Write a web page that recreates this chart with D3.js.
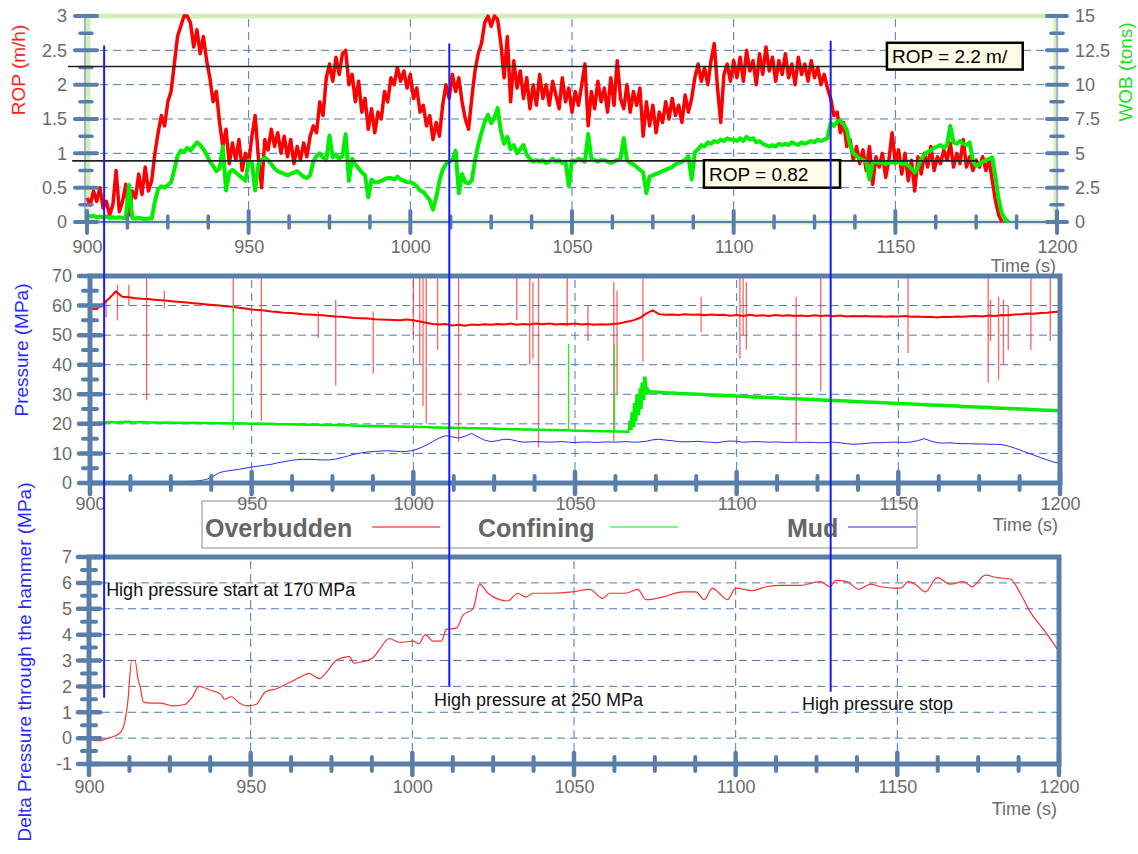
<!DOCTYPE html>
<html lang="en">
<head>
<meta charset="UTF-8">
<title>ROP, WOB and pressures vs time</title>
<script src="https://d3js.org/d3.v7.min.js"></script>
<style>
  body { margin: 0; background: #fff; }
  svg { font-family: "Liberation Sans", Arial, sans-serif; }
  .grid { stroke: #4a78b8; stroke-width: 1; stroke-dasharray: 8,5; fill: none; }
  .mark { stroke: #5a7eaa; stroke-linecap: round; }
  .note { font-size: 18px; fill: #111; }
  .axis-title { font-size: 19px; }
</style>
</head>
<body>
<svg id="chart" width="1138" height="854"></svg>
<script>
// ---- data ----
const timeTicks = [900, 950, 1000, 1050, 1100, 1150, 1200];
const ropTicks = [0, 0.5, 1, 1.5, 2, 2.5, 3];
const wobTicks = [0, 2.5, 5, 7.5, 10, 12.5, 15];
const pressureTicks = [0, 10, 20, 30, 40, 50, 60, 70];
const deltaTicks = [-1, 0, 1, 2, 3, 4, 5, 6, 7];

// ROP (m/h), one sample per second from t = 900 s
const ropStart = 900;
const rop = [
  0.35, 0.25, 0.45, 0.3, 0.5, 0.2, 0.3, 0.1, 0.25, 0.75,
  0.15, 0.3, 0.55, 0.1, 0.45, 0.35, 0.7, 0.4, 0.8, 0.45,
  0.6, 1.0, 1.3, 1.55, 1.4, 1.75, 1.9, 2.3, 2.7, 2.85,
  3.0, 3.0, 2.9, 2.55, 2.8, 2.45, 2.7, 2.35, 2.1, 1.75,
  1.9, 1.45, 1.1, 1.35, 0.85, 1.15, 0.9, 1.2, 0.75, 1.0,
  0.85, 1.25, 1.55, 0.95, 0.5, 1.2, 1.05, 1.35, 1.1, 1.3,
  1.0, 1.25, 0.95, 1.2, 0.85, 1.1, 0.9, 1.15, 0.95, 1.25,
  1.4, 1.3, 1.75, 1.55, 2.1, 2.3, 2.05, 2.4, 2.15, 2.45,
  2.5, 2.0, 2.15, 1.75, 2.05, 1.6, 1.8, 1.35, 1.65, 1.3,
  1.6, 1.5, 1.9, 1.75, 2.1, 2.0, 2.25, 2.05, 2.2, 1.95,
  2.15, 1.8, 1.95, 1.6, 1.7, 1.4, 1.55, 1.2, 1.45, 1.25,
  1.7, 2.0, 1.8, 2.15, 1.9, 2.1, 1.75, 1.5, 1.35, 1.8,
  2.2, 2.45, 2.6, 2.9, 3.0, 2.85, 3.0, 2.95, 2.6, 2.1,
  2.7, 1.75, 2.35, 1.95, 2.2, 1.8, 2.1, 1.65, 2.0, 1.7,
  2.15, 1.8, 2.0, 1.7, 2.05, 1.85, 1.65, 2.1, 1.75, 1.95,
  1.6, 1.9, 1.7, 2.0, 2.3, 1.4, 1.9, 1.65, 2.05, 1.75,
  1.95, 1.6, 2.1, 1.7, 2.35, 1.8, 1.65, 2.0, 1.6, 1.9,
  1.7, 1.95, 1.25, 1.75, 1.4, 1.7, 1.3, 1.6, 1.45, 1.75,
  1.5, 1.8, 1.55, 1.7, 1.45, 1.85, 1.6, 1.8, 2.1, 2.3,
  2.05, 2.25, 2.0, 2.35, 2.6, 1.95, 1.45, 2.15, 2.3, 2.05,
  2.35, 2.1, 2.4, 2.05, 2.5, 2.2, 2.35, 2.0, 2.45, 2.15,
  2.55, 2.2, 2.4, 2.05, 2.35, 2.15, 2.45, 2.1, 2.3, 2.0,
  2.4, 2.15, 2.3, 2.05, 2.35, 2.1, 2.25, 2.0, 2.15, 1.95,
  1.8, 1.55, 1.6, 1.3, 1.45, 1.1, 1.2, 0.9, 1.1, 0.85,
  1.05, 0.75, 1.1, 0.55, 0.95, 0.8, 1.0, 0.65, 0.9, 1.3,
  0.85, 1.05, 0.7, 1.0, 0.6, 0.9, 0.45, 0.95, 0.7, 1.0,
  0.8, 1.1, 0.75, 0.95, 0.85, 1.05, 0.9, 1.15, 0.8, 1.0,
  0.85, 1.2, 0.8, 0.95, 0.75, 0.9, 0.8, 0.95, 0.75, 0.9,
  0.6, 0.3, 0.1, 0.0
];

// WOB (tons), one sample per second from t = 900 s
const wobStart = 900;
const wob = [
  0.5, 0.4, 0.45, 0.35, 0.4, 0.35, 0.4, 0.3, 0.35, 0.3,
  0.35, 0.3, 0.3, 2.7, 0.3, 0.25, 0.3, 0.25, 0.2, 0.25,
  0.25, 1.5, 2.4, 2.6, 2.5, 2.7, 2.9, 3.8, 4.8, 5.2,
  5.1, 5.4, 5.2, 5.5, 5.8, 5.6, 5.3, 4.9, 4.4, 4.1,
  3.7, 3.9, 5.5, 2.3, 3.6, 3.8, 3.6, 3.4, 3.2, 3.0,
  4.5, 4.3, 2.3, 4.2, 4.5, 4.7, 4.5, 4.2, 3.9, 3.7,
  3.6, 3.5, 3.4, 3.5, 3.6, 3.7, 3.5, 3.3, 3.2, 3.4,
  4.4, 4.8, 5.0, 4.7, 4.5, 6.3, 4.7, 4.9, 4.6, 4.8,
  6.4, 3.0, 4.6, 4.2, 3.9, 3.6, 3.4, 1.8, 3.1, 2.9,
  2.9, 3.0, 3.1, 3.2, 3.2, 3.1, 3.3, 3.1, 3.0, 2.9,
  2.9, 2.8, 2.6, 2.3, 2.2, 1.9, 1.6, 0.9, 1.8, 3.0,
  3.8, 4.2, 4.4, 4.5, 5.2, 2.1, 3.5, 2.9, 2.8, 3.0,
  4.5, 5.6, 6.5, 7.3, 7.8, 7.2, 7.6, 8.3, 6.6, 5.7,
  6.2, 5.3, 5.6, 5.0, 5.3, 5.6, 4.9, 4.6, 4.4, 4.5,
  4.4, 4.5, 4.3, 4.4, 4.6, 4.4, 4.5, 4.3, 4.4, 2.6,
  4.5, 4.4, 4.6, 4.5, 4.4, 6.4, 4.6, 4.5, 4.4, 4.5,
  4.5, 4.4, 4.3, 4.4, 4.5, 4.6, 6.1, 4.5, 4.3, 4.2,
  4.0, 3.8, 3.6, 2.1, 3.3, 3.4, 3.5, 3.6, 3.7, 3.8,
  3.9, 4.0, 4.2, 4.3, 4.4, 4.5, 4.8, 3.1, 5.1, 5.3,
  5.6, 5.5, 5.8, 5.7, 5.9, 5.8, 6.0, 5.9, 6.1, 6.0,
  6.0, 5.9, 6.1, 5.9, 6.2, 6.0, 6.1, 5.8, 5.9, 5.7,
  5.6, 5.5, 5.6, 5.5, 5.7, 5.6, 5.7, 5.6, 5.8, 5.7,
  5.6, 5.8, 5.7, 5.8, 5.9, 5.8, 6.0, 5.9, 6.0, 6.1,
  7.2, 7.0, 7.3, 7.4, 7.1, 6.7, 5.6, 5.0, 4.8, 4.6,
  4.5, 4.4, 3.1, 4.3, 4.4, 4.3, 4.4, 4.2, 4.3, 4.4,
  4.3, 4.4, 4.2, 4.3, 4.1, 3.9, 3.6, 4.0, 4.6, 4.9,
  5.1, 5.2, 5.4, 5.5, 5.6, 5.4, 5.6, 7.0, 5.8, 5.7,
  5.9, 5.7, 5.6, 5.8, 4.4, 4.1, 4.2, 4.4, 4.5, 4.6,
  4.7, 3.2, 1.6, 0.6, 0.2, 0.0
];

// ROP reference lines with their boxes
const ropRefs = [
  { label: "ROP = 2.2 m/", value: 2.265, from: 894.1, to: 1147.4, boxEnd: 1189.4, boxTop: 2.61, boxBottom: 2.22 },
  { label: "ROP = 0.82", value: 0.89, from: 895.4, to: 1175.6, boxStart: 1090.8, boxEnd: 1132.9, boxTop: 0.9, boxBottom: 0.5 }
];

// pressures (MPa), one sample every 2 s from t = 900 s
const pressureStart = 900;
const overburden = [
  59.0, 58.8, 60.5, 62.5, 64.8, 63.0, 62.8, 62.5, 62.3, 62.2,
  62.0, 61.8, 61.6, 61.4, 61.2, 61.0, 60.8, 60.6, 60.4, 60.2,
  60.0, 59.8, 59.6, 59.3, 59.0, 58.7, 58.5, 58.3, 58.0, 57.8,
  57.6, 57.5, 57.3, 57.1, 57.0, 56.8, 56.7, 56.5, 56.3, 56.2,
  56.0, 55.8, 55.7, 55.6, 55.4, 55.3, 55.2, 55.1, 55.0, 55.3,
  55.0, 54.6, 54.2, 53.8, 53.6, 53.8, 53.3, 53.5, 53.2, 53.6,
  53.4, 53.7, 53.5, 53.8, 53.6, 53.9, 53.5, 53.8, 53.6, 53.9,
  53.7, 53.9, 53.6, 53.8, 53.7, 53.9, 53.6, 53.8, 53.5, 53.7,
  53.6, 53.8, 54.0, 54.5, 55.0, 55.8, 57.3, 58.4, 57.1, 56.9,
  57.0, 56.8, 57.1, 56.9, 57.0, 56.7, 57.0, 56.8, 56.9, 56.6,
  56.8, 56.5, 56.9, 56.6, 56.7, 56.5, 56.8, 56.6, 56.7, 56.5,
  56.6, 56.4, 56.7, 56.5, 56.6, 56.4, 56.6, 56.3, 56.5, 56.4,
  56.5, 56.3, 56.4, 56.2, 56.4, 56.3, 56.5, 56.2, 56.3, 56.1,
  56.2, 56.0, 56.2, 56.1, 56.3, 56.2, 56.4, 56.5, 56.3, 56.6,
  56.5, 56.8, 56.7, 57.0, 57.1, 57.3, 57.2, 57.5, 57.6, 57.8,
  57.9
];
// overburden spikes: [t, high, low]
const overburdenSpikes = [
  [905, 62, 56], [908.5, 67, 55], [912, 67, 60], [917.5, 70, 28], [923, 65, 59],
  [944.3, 70, 58], [953, 70, 21], [970.6, 58, 49], [976, 62, 33], [987.6, 58, 37],
  [1000, 70, 50], [1002, 70, 40], [1003, 70, 26], [1004, 70, 20], [1007.5, 70, 45],
  [1014, 70, 14], [1032, 70, 55], [1036, 70, 40], [1037, 68, 42], [1038.7, 70, 12],
  [1047.6, 70, 53], [1054, 60, 48], [1062, 68, 14], [1063, 65, 30], [1071, 70, 41],
  [1089, 63, 51], [1101, 70, 42], [1102, 70, 50], [1103, 68, 45], [1118.4, 63, 14],
  [1126, 70, 31], [1153, 70, 44], [1177.8, 70, 34], [1178.5, 62, 48], [1181, 63, 35],
  [1182.5, 62, 40], [1184, 60, 45], [1191, 70, 45], [1197, 70, 48]
];
const confining = [
  20.2, 20.4, 20.5, 20.6, 20.5, 20.6, 20.7, 20.5, 20.6, 20.5,
  20.5, 20.4, 20.5, 20.4, 20.4, 20.3, 20.4, 20.3, 20.3, 20.2,
  20.2, 20.2, 20.1, 20.2, 20.1, 20.0, 20.1, 20.0, 20.0, 19.9,
  19.9, 19.9, 19.8, 19.8, 19.7, 19.7, 19.6, 19.6, 19.6, 19.5,
  19.5, 19.4, 19.4, 19.3, 19.3, 19.2, 19.2, 19.1, 19.1, 19.0,
  19.0, 18.9, 18.9, 18.8, 18.8, 18.7, 18.7, 18.6, 18.6, 18.5,
  18.5, 18.4, 18.4, 18.3, 18.3, 18.2, 18.2, 18.1, 18.1, 18.0,
  18.0, 17.9, 17.9, 17.8, 17.8, 17.7, 17.7, 17.6, 17.6, 17.5,
  17.5, 17.4, 17.4, 17.3, 19.5, 28.0, 31.0, 30.8, 30.7, 30.5,
  30.4, 30.3, 30.2, 30.1, 30.0, 29.9, 29.8, 29.7, 29.6, 29.5,
  29.4, 29.3, 29.2, 29.1, 29.0, 28.9, 28.8, 28.7, 28.6, 28.5,
  28.4, 28.3, 28.2, 28.1, 28.0, 27.9, 27.8, 27.7, 27.6, 27.5,
  27.4, 27.3, 27.2, 27.1, 27.0, 26.9, 26.8, 26.7, 26.6, 26.5,
  26.4, 26.3, 26.2, 26.1, 26.0, 25.9, 25.8, 25.7, 25.6, 25.5,
  25.4, 25.3, 25.2, 25.1, 25.0, 24.9, 24.8, 24.7, 24.6, 24.5,
  24.4
];
// oscillating ramp of the confining pressure
const confiningBurst = [
  [1066.5, 17.3], [1067, 21], [1067.3, 18], [1067.7, 24], [1068.2, 19.5], [1068.4, 27],
  [1068.8, 21], [1069.2, 30], [1069.6, 23], [1070.2, 32], [1070.4, 25], [1070.8, 34],
  [1071.2, 28], [1071.6, 36], [1072.2, 30], [1072.5, 31.5], [1073, 30.8]
];
const confiningSpikes = [[944.3, 60, 18], [1048, 47, 17.6], [1062.2, 47, 17.4]];
const mud = [
  0.2, 0.2, 0.2, 0.2, 0.2, 0.2, 0.2, 0.2, 0.2, 0.2,
  0.2, 0.2, 0.3, 0.3, 0.4, 0.5, 0.6, 0.8, 1.2, 2.2,
  3.5, 4.0, 4.3, 4.6, 5.0, 5.4, 5.7, 6.0, 6.3, 6.8,
  7.2, 7.6, 7.9, 8.0, 8.0, 7.9, 7.8, 7.8, 8.1, 8.6,
  9.2, 9.8, 10.2, 10.5, 10.7, 10.8, 10.9, 10.8, 10.6, 10.7,
  11.0, 11.8, 12.8, 14.0, 15.2, 16.0, 15.6, 15.2, 15.8, 16.8,
  15.6, 14.5, 14.0, 14.3, 14.8, 14.7, 14.2, 13.8, 13.9, 14.0,
  13.9, 13.8, 13.9, 14.0, 13.8, 13.7, 13.8, 13.9, 13.7, 13.8,
  13.9, 13.8, 13.9, 14.0, 13.8, 13.9, 14.1, 14.6, 14.8, 14.5,
  14.3, 14.0, 13.9, 14.0, 14.1, 13.9, 13.8, 13.6, 14.0, 14.2,
  14.1, 13.8, 13.9, 14.0, 13.9, 13.8, 13.9, 13.8, 13.7, 13.8,
  13.7, 13.8, 13.7, 13.6, 13.7, 13.8, 13.6, 13.3, 13.1, 13.2,
  13.4, 13.6, 13.6, 13.7, 13.8, 13.8, 13.7, 13.9, 14.3, 15.0,
  14.2, 13.6, 13.5, 13.6, 13.4, 13.3, 13.3, 13.2, 13.2, 13.1,
  13.1, 13.0, 12.5, 11.8, 11.0, 10.2, 9.4, 8.6, 7.8, 7.1,
  6.6
];
const legendItems = ["Overbudden", "Confining", "Mud"];

// delta pressure through the hammer (MPa): [t, value]
const deltaPressure = [
  [900, -0.05], [903, -0.1], [906.5, 0.02], [909.6, 0.2], [911, 0.6], [912, 1.4], [913.2, 3.0],
  [914.2, 3.0], [915.3, 2.2], [915.8, 2.0], [916.8, 1.4], [919, 1.35], [922, 1.35], [926, 1.25],
  [929.6, 1.3], [932, 1.6], [934, 2.0], [937.6, 1.85], [940.7, 1.7], [942, 1.5], [944, 1.6],
  [946.6, 1.35], [949, 1.25], [951.6, 1.3], [954.7, 1.8], [957.8, 1.9], [962, 2.15], [966, 2.4],
  [968, 2.5], [971.2, 2.3], [973.8, 2.6], [976.4, 3.0], [980.5, 3.15], [982, 2.9], [984.6, 2.95],
  [987.7, 3.1], [989.7, 3.4], [992.8, 3.85], [996.2, 3.7], [1000.3, 3.75], [1002, 3.65], [1004, 4.0],
  [1006.4, 3.75], [1009, 3.75], [1010.5, 4.2], [1013.6, 4.25], [1015.7, 4.75], [1018.8, 5.0],
  [1020.8, 5.95], [1023.4, 5.6], [1027, 5.35], [1029.5, 5.3], [1032.6, 5.6], [1035.2, 5.45],
  [1037.3, 5.6], [1042.4, 5.6], [1049.6, 5.65], [1054.8, 5.75], [1058.9, 5.4], [1061, 5.6],
  [1066, 5.6], [1069.7, 5.75], [1072.3, 5.35], [1077.4, 5.45], [1083.6, 5.65], [1087.7, 5.65],
  [1090.3, 5.35], [1092.8, 5.8], [1094.9, 5.6], [1097.5, 5.35], [1100, 5.8], [1105.2, 5.7],
  [1109.4, 5.85], [1114.5, 5.9], [1120, 5.9], [1126.2, 6.05], [1129.3, 5.85], [1130.8, 6.1],
  [1134.4, 6.05], [1138, 5.75], [1141.7, 5.95], [1144.8, 5.85], [1149.4, 5.8], [1151, 5.8],
  [1153.5, 6.05], [1156, 5.9], [1158.7, 5.65], [1162.3, 6.2], [1166.4, 5.95], [1170.5, 6.05],
  [1173.1, 5.85], [1177.2, 6.3], [1180.8, 6.2], [1184.9, 6.15], [1188, 5.6], [1191, 4.9],
  [1195.2, 4.2], [1200, 3.35]
];

// event markers: time, top (ROP units) and bottom (delta units)
const markers = [
  { t: 905.3, top: 2.57, bottom: 1.56 },
  { t: 1012.05, top: 2.6, bottom: 1.98 },
  { t: 1130.0, top: 2.64, bottom: 1.79 }
];
const notes = [
  { text: "High pressure start at 170 MPa", t: 905.3, v: 5.5 },
  { text: "High pressure at 250 MPa", t: 1006.7, v: 1.25 },
  { text: "High pressure stop", t: 1120.5, v: 1.1 }
];

// ---- chart ----
const svg = d3.select("#chart");
const axisColor = "#5a7eaa";
const labelColor = "#6b6b6b";

const xTop = d3.scaleLinear().domain([900, 1200]).range([87, 1057]);
const yRop = d3.scaleLinear().domain([0, 3]).range([222, 16]);
const yWob = d3.scaleLinear().domain([0, 15]).range([222, 16]);
const xMid = d3.scaleLinear().domain([900, 1200]).range([90, 1060]);
const yPres = d3.scaleLinear().domain([0, 70]).range([483, 276]);
const xBot = d3.scaleLinear().domain([900, 1200]).range([89, 1059]);
const yDelta = d3.scaleLinear().domain([-1, 7]).range([764, 557]);

const seriesFrom = (start, step, values) => values.map((v, i) => [start + i * step, v]);

function grid(g, x, y, xVals, yVals) {
  g.selectAll(null).data(xVals).enter().append("line").attr("class", "grid")
    .attr("x1", d => x(d)).attr("x2", d => x(d))
    .attr("y1", y.range()[0]).attr("y2", y.range()[1]);
  g.selectAll(null).data(yVals).enter().append("line").attr("class", "grid")
    .attr("y1", d => y(d)).attr("y2", d => y(d))
    .attr("x1", x.range()[0]).attr("x2", x.range()[1]);
}

function marks(g, scale, vals, dir, at, half, w) {
  g.selectAll(null).data(vals).enter().append("line").attr("class", "mark")
    .attr("stroke-width", w)
    .attr(dir === "x" ? "x1" : "y1", d => scale(d))
    .attr(dir === "x" ? "x2" : "y2", d => scale(d))
    .attr(dir === "x" ? "y1" : "x1", at - half)
    .attr(dir === "x" ? "y2" : "x2", at + half);
}

function labels(g, axis, transform) {
  const a = g.append("g").attr("transform", transform).call(axis);
  a.select(".domain").remove();
  a.selectAll("text").attr("fill", labelColor).attr("font-size", 18)
    .attr("font-family", "'Liberation Sans', Arial, sans-serif");
}

function title(text, x, y, color, rotate) {
  svg.append("text").attr("class", "axis-title")
    .attr("transform", `translate(${x},${y})` + (rotate ? " rotate(-90)" : ""))
    .attr("text-anchor", rotate ? "middle" : "end")
    .attr("fill", color).text(text);
}

const majorTime = timeTicks;
const minorTime = d3.range(912.5, 1200, 12.5).filter(d => d % 50 !== 0);

// ===== top panel: ROP / WOB =====
const topG = svg.append("g");
topG.append("rect").attr("x", 88).attr("y", 16).attr("width", 968).attr("height", 206)
  .attr("fill", "none").attr("stroke", "#d3efb8").attr("stroke-width", 5);
grid(topG, xTop, yRop, [950, 1000, 1050, 1100, 1150], [0.5, 1, 1.5, 2, 2.5]);
topG.append("line").attr("x1", 87).attr("x2", 1057).attr("y1", 222).attr("y2", 222)
  .attr("stroke", axisColor).attr("stroke-width", 2);
topG.append("line").attr("x1", 85).attr("x2", 85).attr("y1", 16).attr("y2", 222)
  .attr("stroke", "#9fb6d2").attr("stroke-width", 2);
topG.append("line").attr("x1", 1057).attr("x2", 1057).attr("y1", 16).attr("y2", 222)
  .attr("stroke", "#9fb6d2").attr("stroke-width", 2);

const ropLine = d3.line().x(d => xTop(d[0])).y(d => yRop(d[1]));
const wobLine = d3.line().x(d => xTop(d[0])).y(d => yWob(d[1]));
topG.append("path").datum(seriesFrom(ropStart, 1, rop)).attr("d", ropLine)
  .attr("fill", "none").attr("stroke", "#ff0000").attr("stroke-width", 3.5).attr("stroke-linejoin", "round");
topG.append("path").datum(seriesFrom(wobStart, 1, wob)).attr("d", wobLine)
  .attr("fill", "none").attr("stroke", "#00ee00").attr("stroke-width", 4).attr("stroke-linejoin", "round");

marks(topG, yRop, ropTicks, "y", 86, 11, 4);
marks(topG, yRop, [0.25, 0.75, 1.25, 1.75, 2.25, 2.75], "y", 86, 6, 3.5);
marks(topG, yWob, wobTicks, "y", 1057, 10, 4);
marks(topG, yWob, [1.25, 3.75, 6.25, 8.75, 11.25, 13.75], "y", 1057, 6, 3.5);
marks(topG, xTop, majorTime, "x", 222, 11, 4);
marks(topG, xTop, minorTime, "x", 222, 6, 3.5);

labels(topG, d3.axisLeft(yRop).tickValues(ropTicks).tickSize(0).tickPadding(20).tickFormat(d => d), "translate(87,0)");
labels(topG, d3.axisRight(yWob).tickValues(wobTicks).tickSize(0).tickPadding(18).tickFormat(d => d), "translate(1057,0)");
labels(topG, d3.axisBottom(xTop).tickValues(timeTicks).tickSize(0).tickPadding(18).tickFormat(d => d), "translate(0,222)");

// reference lines and boxes
ropRefs.forEach(r => {
  topG.append("line").attr("x1", xTop(r.from)).attr("x2", xTop(r.to))
    .attr("y1", yRop(r.value)).attr("y2", yRop(r.value))
    .attr("stroke", "#222").attr("stroke-width", 1.6);
  const bx = xTop(r.boxStart !== undefined ? r.boxStart : r.to);
  const bw = xTop(r.boxEnd) - bx;
  topG.append("rect").attr("x", bx).attr("y", yRop(r.boxTop))
    .attr("width", bw).attr("height", yRop(r.boxBottom) - yRop(r.boxTop))
    .attr("fill", "#fffbe6").attr("stroke", "#000").attr("stroke-width", 2.5);
  topG.append("text").attr("x", bx + 5).attr("y", (yRop(r.boxTop) + yRop(r.boxBottom)) / 2 + 7)
    .attr("font-size", 19).attr("fill", "#000").text(r.label);
});

title("ROP (m/h)", 25, 70, "#ff2020", true);
title("WOB (tons)", 1132, 72, "#22dd22", true);
svg.append("text").attr("x", 1056).attr("y", 272).attr("text-anchor", "end")
  .attr("font-size", 18).attr("fill", labelColor).text("Time (s)");

// legend (drawn under the middle panel's labels, as in the original)
const legend = svg.append("g");
legend.append("rect").attr("x", 202).attr("y", 501).attr("width", 715).attr("height", 47)
  .attr("fill", "none").attr("stroke", "#8a8a8a").attr("stroke-width", 1);
const legendColors = ["#ff0000", "#00ee00", "#2a2aff"];
const legendTextX = [205, 478, 787];
const legendLineX = [372, 610, 848];
legendItems.forEach((name, i) => {
  legend.append("text").attr("x", legendTextX[i]).attr("y", 537)
    .attr("font-size", 25).attr("font-weight", "bold").attr("fill", "#666").text(name);
  legend.append("line").attr("x1", legendLineX[i]).attr("x2", legendLineX[i] + 68)
    .attr("y1", 527).attr("y2", 527).attr("stroke", legendColors[i]).attr("stroke-width", 1.2);
});

// ===== middle panel: pressures =====
const midG = svg.append("g");
grid(midG, xMid, yPres, [950, 1000, 1050, 1100, 1150], [10, 20, 30, 40, 50, 60]);
const presLine = d3.line().x(d => xMid(d[0])).y(d => yPres(d[1]));

midG.selectAll(null).data(overburdenSpikes).enter().append("line")
  .attr("x1", d => xMid(d[0])).attr("x2", d => xMid(d[0]))
  .attr("y1", d => yPres(d[1])).attr("y2", d => yPres(d[2]))
  .attr("stroke", "#ff3030").attr("stroke-opacity", 0.75).attr("stroke-width", 1.3);
midG.append("path").datum(seriesFrom(pressureStart, 2, overburden)).attr("d", presLine)
  .attr("fill", "none").attr("stroke", "#ff0000").attr("stroke-width", 2);

midG.selectAll(null).data(confiningSpikes).enter().append("line")
  .attr("x1", d => xMid(d[0])).attr("x2", d => xMid(d[0]))
  .attr("y1", d => yPres(d[1])).attr("y2", d => yPres(d[2]))
  .attr("stroke", "#22ee22").attr("stroke-width", 1.3);
const confSeries = seriesFrom(pressureStart, 2, confining).concat(confiningBurst)
  .sort((a, b) => a[0] - b[0]);
midG.append("path").datum(confSeries.filter(d => d[0] <= 1067)).attr("d", presLine)
  .attr("fill", "none").attr("stroke", "#00ee00").attr("stroke-width", 2.5);
midG.append("path").datum(confSeries.filter(d => d[0] >= 1067)).attr("d", presLine)
  .attr("fill", "none").attr("stroke", "#00ee00").attr("stroke-width", 3.5);
midG.append("path").datum(seriesFrom(pressureStart, 2, mud)).attr("d", presLine)
  .attr("fill", "none").attr("stroke", "#2a2aff").attr("stroke-width", 1);

midG.append("rect").attr("x", 90).attr("y", 276).attr("width", 970).attr("height", 207)
  .attr("fill", "none").attr("stroke", axisColor).attr("stroke-width", 5);
marks(midG, yPres, pressureTicks, "y", 90, 11, 4.5);
marks(midG, yPres, [5, 15, 25, 35, 45, 55, 65], "y", 90, 7, 4);
marks(midG, xMid, majorTime, "x", 483, 11, 4.5);
marks(midG, xMid, minorTime, "x", 483, 7, 4);
labels(midG, d3.axisLeft(yPres).tickValues(pressureTicks).tickSize(0).tickPadding(18).tickFormat(d => d), "translate(90,0)");
labels(midG, d3.axisBottom(xMid).tickValues(timeTicks).tickSize(0).tickPadding(14).tickFormat(d => d), "translate(0,483)");
title("Pressure (MPa)", 28, 350, "#2a2aff", true);
svg.append("text").attr("x", 1058).attr("y", 531).attr("text-anchor", "end")
  .attr("font-size", 18).attr("fill", labelColor).text("Time (s)");

// ===== bottom panel: delta pressure =====
const botG = svg.append("g");
grid(botG, xBot, yDelta, [950, 1000, 1050, 1100, 1150], [0, 1, 2, 3, 4, 5, 6]);
botG.append("path").datum(deltaPressure)
  .attr("d", d3.line().x(d => xBot(d[0])).y(d => yDelta(d[1])).curve(d3.curveMonotoneX))
  .attr("fill", "none").attr("stroke", "#ff3030").attr("stroke-width", 1.2);
botG.append("rect").attr("x", 89).attr("y", 557).attr("width", 970).attr("height", 207)
  .attr("fill", "none").attr("stroke", axisColor).attr("stroke-width", 5);
marks(botG, yDelta, deltaTicks, "y", 89, 11, 4.5);
marks(botG, yDelta, [-0.5, 0.5, 1.5, 2.5, 3.5, 4.5, 5.5, 6.5], "y", 89, 7, 4);
marks(botG, xBot, majorTime, "x", 764, 11, 4.5);
marks(botG, xBot, minorTime, "x", 764, 7, 4);
labels(botG, d3.axisLeft(yDelta).tickValues(deltaTicks).tickSize(0).tickPadding(17).tickFormat(d => d), "translate(89,0)");
labels(botG, d3.axisBottom(xBot).tickValues(timeTicks).tickSize(0).tickPadding(16).tickFormat(d => d), "translate(0,764)");
title("Delta Pressure through the hammer (MPa)", 31, 662, "#2a2aff", true);
svg.append("text").attr("x", 1057).attr("y", 815).attr("text-anchor", "end")
  .attr("font-size", 18).attr("fill", labelColor).text("Time (s)");

notes.forEach(n => {
  svg.append("text").attr("class", "note").attr("x", xBot(n.t)).attr("y", yDelta(n.v)).text(n.text);
});

// event markers across all panels
svg.selectAll(null).data(markers).enter().append("line")
  .attr("x1", d => xTop(d.t)).attr("x2", d => xTop(d.t))
  .attr("y1", d => yRop(d.top)).attr("y2", d => yDelta(d.bottom))
  .attr("stroke", "#1a1aff").attr("stroke-width", 2);
</script>
</body>
</html>
